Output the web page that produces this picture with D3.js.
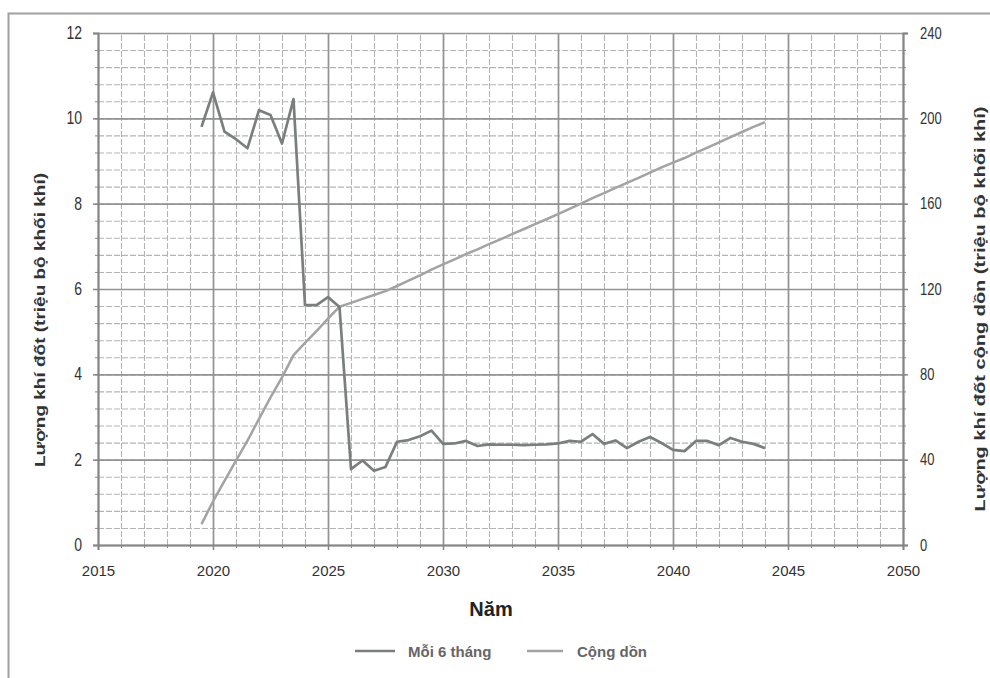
<!DOCTYPE html>
<html><head><meta charset="utf-8">
<script src="https://cdn.jsdelivr.net/npm/d3@7"></script>
<style>body{margin:0;background:#fff}svg{display:block}</style>
</head><body>
<svg id="c" width="990" height="678"></svg>
<script>
// ---- data ----
const years = [2019.5,2020,2020.5,2021,2021.5,2022,2022.5,2023,2023.5,2024,2024.5,2025,2025.5,
  2026,2026.5,2027,2027.5,2028,2028.5,2029,2029.5,2030,2030.5,2031,2031.5,2032,2032.5,2033,2033.5,
  2034,2034.5,2035,2035.5,2036,2036.5,2037,2037.5,2038,2038.5,2039,2039.5,2040,2040.5,2041,2041.5,
  2042,2042.5,2043,2043.5,2044];
const halfYearValues = [9.80,10.61,9.69,9.51,9.30,10.19,10.08,9.41,10.45,5.62,5.62,5.81,5.58,
  1.78,1.98,1.74,1.83,2.42,2.46,2.55,2.68,2.37,2.38,2.44,2.32,2.36,2.35,2.35,2.34,
  2.35,2.36,2.38,2.44,2.42,2.60,2.37,2.45,2.27,2.42,2.53,2.39,2.23,2.20,2.44,2.44,
  2.34,2.51,2.42,2.37,2.27];
const cumulativeValues = [9.8,20.4,30.1,39.6,48.9,59.1,69.2,78.6,89.0,94.7,100.3,106.1,111.7,
  113.5,115.4,117.2,119.0,121.4,123.9,126.4,129.1,131.5,133.9,136.3,138.6,141.0,143.3,145.7,148.0,
  150.4,152.7,155.1,157.6,160.0,162.6,164.9,167.4,169.7,172.1,174.6,177.0,179.2,181.4,183.9,186.3,
  188.7,191.2,193.6,196.0,198.2];
const xTicks = [2015,2020,2025,2030,2035,2040,2045,2050];
const leftTicks = [0,2,4,6,8,10,12];
const rightTicks = [0,40,80,120,160,200,240];
const seriesNames = ["Mỗi 6 tháng","Cộng dồn"];
const leftTitle = "Lượng khí đốt  (triệu bộ khối khí)";
const rightTitle = "Lượng khí đốt cộng dồn  (triệu bộ khối khí)";
const xTitle = "Năm";

// ---- layout ----
const W = 990, H = 678;
const P = {l: 98, r: 903, t: 33, b: 545};
const colHalf = "#7a7f7d", colCum = "#a3a3a3";
const font = "'Liberation Sans', Arial, sans-serif";

const svg = d3.select("#c");
svg.append("rect").attr("width", W).attr("height", H).attr("fill", "#fff");
// outer frame (top + left)
svg.append("path").attr("d", `M8.5,${H}V13.5H${W}`).attr("fill", "none")
  .attr("stroke", "#a0a0a0").attr("stroke-width", 2);

const x = d3.scaleLinear().domain([2015, 2050]).range([P.l, P.r]);
const yL = d3.scaleLinear().domain([0, 12]).range([P.b, P.t]);
const yR = d3.scaleLinear().domain([0, 240]).range([P.b, P.t]);

const minorX = d3.range(2015, 2050.001, 1);
const minorY = d3.range(0, 12.001, 0.4);

// minor grid
const gMinX = svg.append("g").attr("transform", `translate(0,${P.b})`)
  .call(d3.axisBottom(x).tickValues(minorX).tickSize(-(P.b - P.t)).tickFormat(""));
gMinX.select(".domain").remove();
gMinX.selectAll("line").attr("stroke", "#b4b4b4").attr("stroke-width", 1.1).attr("stroke-dasharray", "6,2");
const gMinY = svg.append("g").attr("transform", `translate(${P.l},0)`)
  .call(d3.axisLeft(yL).tickValues(minorY).tickSize(-(P.r - P.l)).tickFormat(""));
gMinY.select(".domain").remove();
gMinY.selectAll("line").attr("stroke", "#b4b4b4").attr("stroke-width", 1.1).attr("stroke-dasharray", "6,2");

// major grid
const gMajX = svg.append("g").attr("transform", `translate(0,${P.b})`)
  .call(d3.axisBottom(x).tickValues(xTicks).tickSize(-(P.b - P.t)).tickFormat(""));
gMajX.select(".domain").remove();
gMajX.selectAll("line").attr("stroke", "#939393").attr("stroke-width", 1.7);
const gMajY = svg.append("g").attr("transform", `translate(${P.l},0)`)
  .call(d3.axisLeft(yL).tickValues(leftTicks).tickSize(-(P.r - P.l)).tickFormat(""));
gMajY.select(".domain").remove();
gMajY.selectAll("line").attr("stroke", "#939393").attr("stroke-width", 1.7);

// minor tick marks on axes
svg.append("g").attr("transform", `translate(0,${P.b})`)
  .call(d3.axisBottom(x).tickValues(minorX).tickSize(3).tickFormat(""))
  .call(g => { g.select(".domain").remove(); g.selectAll("line").attr("stroke", "#888"); });
svg.append("g").attr("transform", `translate(${P.l},0)`)
  .call(d3.axisLeft(yL).tickValues(minorY).tickSize(3).tickFormat(""))
  .call(g => { g.select(".domain").remove(); g.selectAll("line").attr("stroke", "#888"); });
svg.append("g").attr("transform", `translate(${P.r},0)`)
  .call(d3.axisRight(yL).tickValues(minorY).tickSize(3).tickFormat(""))
  .call(g => { g.select(".domain").remove(); g.selectAll("line").attr("stroke", "#888"); });

// main axes
function styleAxis(g, size) {
  g.select(".domain").attr("stroke", "#858585").attr("stroke-width", 1.9);
  g.selectAll(".tick line").attr("stroke", "#858585").attr("stroke-width", 1.5);
  g.selectAll("text").attr("fill", "#333").attr("font-family", font).attr("font-size", size);
}
svg.append("g").attr("transform", `translate(0,${P.b})`)
  .call(d3.axisBottom(x).tickValues(xTicks).tickSize(5).tickPadding(15).tickFormat(d3.format("d")))
  .call(g => styleAxis(g, 15));
svg.append("g").attr("transform", `translate(${P.l},0)`)
  .call(d3.axisLeft(yL).tickValues(leftTicks).tickSize(5).tickPadding(11).tickFormat(d3.format("d")))
  .call(g => { styleAxis(g, 14); g.selectAll("text").attr("transform", "scale(1,1.25)"); });
svg.append("g").attr("transform", `translate(${P.r},0)`)
  .call(d3.axisRight(yR).tickValues(rightTicks).tickSize(5).tickPadding(12).tickFormat(d3.format("d")))
  .call(g => { styleAxis(g, 13); g.selectAll("text").attr("transform", "scale(1,1.25)"); });

// lines
const cumData = years.map((yr, i) => ({yr, v: cumulativeValues[i]}));
const halfData = years.map((yr, i) => ({yr, v: halfYearValues[i]}));
svg.append("path").datum(cumData)
  .attr("d", d3.line().x(d => x(d.yr)).y(d => yR(d.v)))
  .attr("fill", "none").attr("stroke", colCum).attr("stroke-width", 2.5).attr("stroke-linejoin", "round");
svg.append("path").datum(halfData)
  .attr("d", d3.line().x(d => x(d.yr)).y(d => yL(d.v)))
  .attr("fill", "none").attr("stroke", colHalf).attr("stroke-width", 2.7).attr("stroke-linejoin", "round");

// titles
svg.append("text").attr("x", 491).attr("y", 616).attr("text-anchor", "middle")
  .attr("font-family", font).attr("font-size", 20).attr("font-weight", "bold").attr("fill", "#222")
  .text(xTitle);
svg.append("text").attr("transform", "translate(45,320) rotate(-90)").attr("text-anchor", "middle")
  .attr("font-family", font).attr("font-size", 15).attr("font-weight", "bold").attr("fill", "#333")
  .attr("textLength", 294).attr("lengthAdjust", "spacingAndGlyphs")
  .text(leftTitle);
svg.append("text").attr("transform", "translate(985,309) rotate(-90)").attr("text-anchor", "middle")
  .attr("font-family", font).attr("font-size", 15).attr("font-weight", "bold").attr("fill", "#333")
  .attr("textLength", 405).attr("lengthAdjust", "spacingAndGlyphs")
  .text(rightTitle);

// legend
const legend = [
  {name: seriesNames[0], color: colHalf, x0: 355, x1: 395, tx: 408},
  {name: seriesNames[1], color: colCum, x0: 527, x1: 563, tx: 577}
];
const lg = svg.append("g").selectAll("g").data(legend).join("g");
lg.append("line").attr("x1", d => d.x0).attr("x2", d => d.x1).attr("y1", 651).attr("y2", 651)
  .attr("stroke", d => d.color).attr("stroke-width", 2.6);
lg.append("text").attr("x", d => d.tx).attr("y", 656.5)
  .attr("font-family", font).attr("font-size", 15).attr("font-weight", "bold").attr("fill", "#666")
  .text(d => d.name);
</script>
</body></html>
